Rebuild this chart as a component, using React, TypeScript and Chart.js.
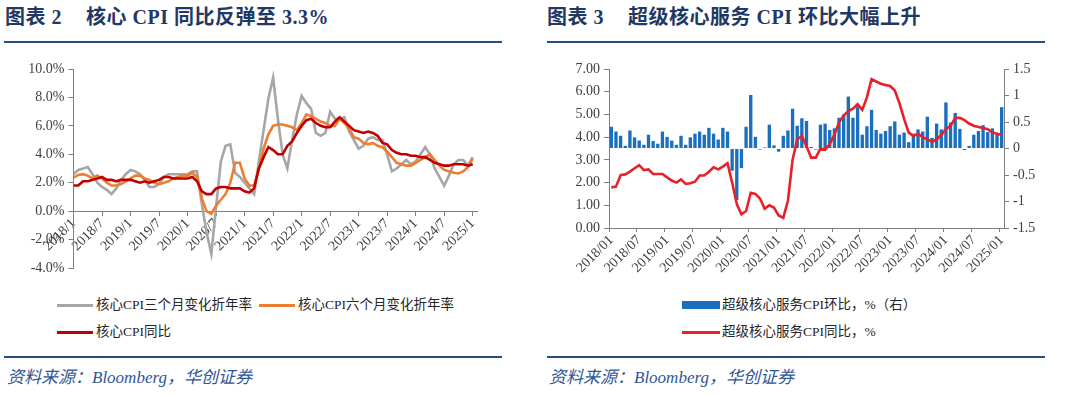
import React, { useEffect, useRef } from "react";
import { Chart, registerables } from "chart.js";
Chart.register(...registerables);

// ---------- Data: left chart (2018/1 – 2025/1, monthly) ----------
const core3m = [
  2.6, 2.9, 3.0, 3.1, 2.6, 2.0, 1.7, 1.5, 1.2, 1.6, 2.2, 2.6,
  2.9, 2.8, 2.6, 2.2, 1.7, 1.7, 1.9, 2.4, 2.6, 2.6, 2.6, 2.6,
  2.6, 2.8, 2.8, 0.5, -1.5, -3.0, 0.3, 3.5, 4.6, 4.7, 2.7, 2.4,
  2.0, 1.6, 1.2, 3.5, 5.7, 7.9, 9.4, 6.5, 4.0, 3.0, 5.0, 6.8,
  8.1, 7.6, 7.2, 5.5, 5.3, 5.5, 7.0, 6.5, 6.5, 6.6, 5.6, 5.0,
  4.4, 4.6, 5.1, 5.2, 5.0, 5.0, 4.0, 2.8, 3.0, 3.3, 3.6, 3.3,
  3.5, 4.0, 4.5, 4.0, 3.0, 2.4, 1.8, 2.5, 3.3, 3.6, 3.6, 3.2,
  3.8,
];
const core6m = [
  2.35, 2.55, 2.6, 2.5, 2.3, 2.5, 2.3, 2.0, 1.8, 1.8, 1.9, 2.1,
  2.3, 2.5, 2.5, 2.3, 2.2, 2.0, 1.9, 2.0, 2.1, 2.3, 2.4, 2.5,
  2.5, 2.7, 2.4, 0.9, 0.0, -0.2, 0.4, 0.8, 1.2, 2.0, 3.4, 3.4,
  2.3, 1.8, 1.8, 3.0, 4.4, 5.4, 6.0, 6.1, 6.1, 6.0, 5.9, 5.7,
  6.2, 6.8, 6.7, 6.5, 6.3, 6.2, 6.0, 6.0, 6.5, 6.2, 5.8, 5.2,
  5.1, 4.8, 4.7, 4.8, 4.6, 4.5, 4.2, 3.8, 3.4, 3.3, 3.2, 3.2,
  3.4, 3.6, 3.8, 4.0, 3.6, 3.2, 2.9, 2.8, 2.7, 2.65, 2.8, 3.1,
  3.7,
];
const coreYoY = [
  1.8, 1.8, 2.1, 2.1, 2.2, 2.3, 2.4, 2.2, 2.2, 2.1, 2.2, 2.2,
  2.2, 2.1, 2.0, 2.1, 2.0, 2.1, 2.2, 2.4, 2.4, 2.3, 2.3, 2.3,
  2.3, 2.4, 2.1, 1.4, 1.2, 1.2, 1.6, 1.7, 1.7, 1.6, 1.6, 1.6,
  1.4, 1.3, 1.6, 3.0, 3.8, 4.5, 4.3, 4.0, 4.0, 4.6, 4.9, 5.5,
  6.0, 6.4, 6.5, 6.2, 6.0, 5.9, 5.9, 6.3, 6.6, 6.3, 6.0, 5.7,
  5.6, 5.5, 5.6, 5.5, 5.3, 4.8, 4.7, 4.3, 4.1, 4.0, 4.0, 3.9,
  3.9, 3.8, 3.8, 3.6, 3.4, 3.3, 3.2, 3.2, 3.3, 3.3, 3.3, 3.2,
  3.3,
];
const leftTickLabels = [
  "2018/1", "2018/7", "2019/1", "2019/7", "2020/1", "2020/7", "2021/1", "2021/7",
  "2022/1", "2022/7", "2023/1", "2023/7", "2024/1", "2024/7", "2025/1",
];

// ---------- Data: right chart ----------
const superMoM = [
  0.41, 0.32, 0.24, 0.05, 0.34, 0.21, 0.15, 0.07, 0.26, 0.14, 0.09, 0.32,
  0.22, 0.15, 0.07, 0.24, 0.07, 0.21, 0.28, 0.32, 0.26, 0.39, 0.28, 0.17,
  0.39, 0.32, -0.42, -0.97, -0.37, 0.41, 1.01, 0.22, -0.02, 0.02, 0.45, 0.06,
  -0.06, 0.24, 0.34, 0.75, 0.43, 0.57, 0.52, 0.03, -0.02, 0.45, 0.47, 0.35,
  0.38, 0.58, 0.64, 0.98, 0.58, 0.78, 0.26, 0.42, 0.73, 0.35, 0.28, 0.33,
  0.42, 0.51, 0.26, 0.30, 0.12, 0.28, 0.36, 0.32, 0.60, 0.20, 0.47, 0.36,
  0.87, 0.49, 0.67, 0.37, -0.03, 0.05, 0.26, 0.33, 0.44, 0.31, 0.38, 0.26,
  0.78,
];
const superYoY = [
  1.79, 1.82, 2.33, 2.36, 2.48, 2.63, 2.77, 2.55, 2.58, 2.38, 2.38, 2.38,
  2.23, 2.09, 2.0, 2.14, 1.94, 1.97, 2.04, 2.31, 2.31, 2.48, 2.67, 2.58,
  2.70, 2.85, 2.0, 1.05, 0.6, 0.75, 1.55, 1.5, 1.3, 0.85, 1.0, 0.9,
  0.55, 0.45, 1.2, 3.0, 3.9, 4.05, 3.6, 3.1, 3.1, 3.5, 3.44, 3.7,
  4.1, 4.65, 4.95, 5.15, 5.25, 5.45, 5.2, 5.75, 6.55, 6.45, 6.35, 6.3,
  6.25, 6.05, 5.5, 4.8, 4.2, 4.05, 4.15, 4.0, 3.9, 3.8, 3.9, 4.1,
  4.35, 4.5, 4.85, 4.85, 4.75, 4.6, 4.5, 4.45, 4.4, 4.35, 4.2, 4.15,
  4.1,
];
const rightTickLabels = [
  "2018/01", "2018/07", "2019/01", "2019/07", "2020/01", "2020/07", "2021/01", "2021/07",
  "2022/01", "2022/07", "2023/01", "2023/07", "2024/01", "2024/07", "2025/01",
];
const months: string[] = [];
for (let y = 2018; y <= 2025; y++) {
  for (let m = 1; m <= 12; m++) {
    if (months.length < 85) months.push(`${y}/${m < 10 ? "0" + m : m}`);
  }
}

const SERIF = "'Liberation Serif', 'Times New Roman', serif";
const CJK = "'Liberation Serif', 'Noto Sans CJK SC', sans-serif";
const NAVY = "#1F3864";
const AXIS = "#7F7F7F";
const TICKTXT = "#404040";
const TICKFONT = { family: SERIF, size: 14 };

function zeroPad(s: any) {
  s.paddingTop = 0;
  s.paddingBottom = 0;
  s.paddingLeft = 0;
  s.paddingRight = 0;
}

function LeftChart() {
  const ref = useRef<HTMLCanvasElement>(null);
  useEffect(() => {
    const pts = (arr: number[]) => arr.map((v, i) => ({ x: i, y: v }));
    const chart = new Chart(ref.current!, {
      type: "line",
      data: {
        datasets: [
          { label: "核心CPI同比", data: pts(coreYoY), borderColor: "#C00000", borderWidth: 2.6, pointRadius: 0, order: 0 },
          { label: "核心CPI六个月变化折年率", data: pts(core6m), borderColor: "#ED7D31", borderWidth: 2.6, pointRadius: 0, order: 1 },
          { label: "核心CPI三个月变化折年率", data: pts(core3m), borderColor: "#A6A6A6", borderWidth: 2.6, pointRadius: 0, order: 2 },
        ],
      },
      options: {
        animation: false,
        responsive: false,
        maintainAspectRatio: false,
        layout: { padding: { top: 14, right: 43, bottom: 12, left: 0 } },
        plugins: { legend: { display: false }, tooltip: { enabled: false } },
        scales: {
          x: {
            type: "linear",
            position: { y: 0 } as any,
            min: 0,
            max: 84.9,
            ticks: {
              stepSize: 6,
              includeBounds: false,
              autoSkip: false,
              minRotation: 45,
              maxRotation: 45,
              padding: 0,
              color: TICKTXT,
              font: TICKFONT,
              callback: (v: any) => leftTickLabels[Math.round(v / 6)] ?? "",
            },
            grid: { drawOnChartArea: false, drawTicks: true, tickLength: 4, color: AXIS },
            border: { color: AXIS, width: 1 },
            afterFit: zeroPad,
          },
          y: {
            min: -4,
            max: 10,
            ticks: {
              stepSize: 2,
              padding: 4,
              color: TICKTXT,
              font: TICKFONT,
              callback: (v: any) => Number(v).toFixed(1) + "%",
            },
            grid: { drawOnChartArea: false, drawTicks: true, tickLength: 5, color: AXIS },
            border: { color: AXIS, width: 1 },
            afterFit: (s: any) => {
              s.width = 73.5;
              zeroPad(s);
            },
          },
        },
      },
    } as any);
    return () => chart.destroy();
  }, []);
  return <canvas ref={ref} width={520} height={225} style={{ position: "absolute", left: 0, top: 55, width: 520, height: 225 }} />;
}

function RightChart() {
  const ref = useRef<HTMLCanvasElement>(null);
  useEffect(() => {
    const chart = new Chart(ref.current!, {
      type: "bar",
      data: {
        labels: months,
        datasets: [
          {
            type: "line",
            label: "超级核心服务CPI同比，%",
            data: superYoY,
            yAxisID: "y",
            borderColor: "#E8202A",
            borderWidth: 2.6,
            pointRadius: 0,
            order: 0,
          },
          {
            type: "bar",
            label: "超级核心服务CPI环比，%（右）",
            data: superMoM,
            yAxisID: "y1",
            backgroundColor: "#1A6FBF",
            categoryPercentage: 1,
            barPercentage: 0.72,
            order: 1,
          },
        ],
      },
      options: {
        animation: false,
        responsive: false,
        maintainAspectRatio: false,
        layout: { padding: { top: 14, right: 0, bottom: 0, left: 0 } },
        plugins: { legend: { display: false }, tooltip: { enabled: false } },
        scales: {
          x: {
            ticks: {
              autoSkip: false,
              minRotation: 45,
              maxRotation: 45,
              padding: 0,
              color: TICKTXT,
              font: TICKFONT,
              callback: (_v: any, i: number) => (i % 6 === 0 ? rightTickLabels[i / 6] : ""),
            },
            grid: {
              drawOnChartArea: false,
              drawTicks: true,
              tickLength: 4,
              color: (c: any) => (c.index % 6 === 0 ? AXIS : "rgba(0,0,0,0)"),
            },
            border: { color: AXIS, width: 1 },
            afterFit: (s: any) => {
              s.height = 52;
              zeroPad(s);
            },
          },
          y: {
            position: "left",
            min: 0,
            max: 7,
            ticks: {
              stepSize: 1,
              padding: 4,
              color: TICKTXT,
              font: TICKFONT,
              callback: (v: any) => Number(v).toFixed(2),
            },
            grid: { drawOnChartArea: false, drawTicks: true, tickLength: 5, color: AXIS },
            border: { color: AXIS, width: 1 },
            afterFit: (s: any) => {
              s.width = 69;
              zeroPad(s);
            },
          },
          y1: {
            position: "right",
            min: -1.5,
            max: 1.5,
            ticks: {
              stepSize: 0.5,
              padding: 4,
              color: TICKTXT,
              font: TICKFONT,
              callback: (v: any) => String(Math.round(Number(v) * 10) / 10),
            },
            grid: { drawOnChartArea: false, drawTicks: true, tickLength: 5, color: AXIS },
            border: { color: AXIS, width: 1 },
            afterFit: (s: any) => {
              s.width = 76;
              zeroPad(s);
            },
          },
        },
      },
    } as any);
    return () => chart.destroy();
  }, []);
  return <canvas ref={ref} width={540} height={225} style={{ position: "absolute", left: 540, top: 55, width: 540, height: 225 }} />;
}

const abs = (left: number, top: number, extra: React.CSSProperties = {}): React.CSSProperties => ({
  position: "absolute",
  left,
  top,
  ...extra,
});

const legendText: React.CSSProperties = {
  fontFamily: CJK,
  fontSize: 13.5,
  lineHeight: "18px",
  color: "#262626",
  whiteSpace: "nowrap",
};

function LegendLine({ x, y, color, text, thick = 3 }: { x: number; y: number; color: string; text: string; thick?: number }) {
  return (
    <>
      <div style={abs(x, y - thick / 2, { width: 36, height: thick, background: color })} />
      <div style={abs(x + 39, y - 9, legendText)}>{text}</div>
    </>
  );
}

export default function App() {
  const titleStyle: React.CSSProperties = {
    fontFamily: CJK,
    fontWeight: 700,
    fontSize: 20,
    letterSpacing: 0.5,
    color: NAVY,
    whiteSpace: "nowrap",
    lineHeight: "26px",
  };
  const srcStyle: React.CSSProperties = {
    fontFamily: CJK,
    fontStyle: "italic",
    fontSize: 17,
    color: "#2F5597",
    whiteSpace: "nowrap",
    lineHeight: "22px",
  };
  return (
    <div style={{ position: "absolute", left: 0, top: 0, width: 1080, height: 395, background: "#fff", overflow: "hidden" }}>
      {/* Left panel */}
      <div style={abs(5, 4, titleStyle)}>
        图表 2<span style={{ display: "inline-block", width: 24 }} />核心 CPI 同比反弹至 3.3%
      </div>
      <div style={abs(4, 41, { width: 498, height: 2, background: "#2B4C7E" })} />
      <LeftChart />
      <LegendLine x={57} y={305} color="#A6A6A6" text="核心CPI三个月变化折年率" />
      <LegendLine x={259} y={305} color="#ED7D31" text="核心CPI六个月变化折年率" />
      <LegendLine x={57} y={332} color="#C00000" text="核心CPI同比" />
      <div style={abs(4, 356, { width: 498, height: 1.5, background: "#2B4C7E" })} />
      <div style={abs(7, 367, srcStyle)}>资料来源：Bloomberg，华创证券</div>

      {/* Right panel */}
      <div style={abs(547, 4, titleStyle)}>
        图表 3<span style={{ display: "inline-block", width: 24 }} />超级核心服务 CPI 环比大幅上升
      </div>
      <div style={abs(547, 41, { width: 498, height: 2, background: "#2B4C7E" })} />
      <RightChart />
      <div style={abs(682, 301, { width: 38, height: 8, background: "#1A6FBF" })} />
      <div style={abs(722, 296, legendText)}>超级核心服务CPI环比，%（右）</div>
      <div style={abs(682, 331, { width: 38, height: 2.5, background: "#E8202A" })} />
      <div style={abs(722, 323, legendText)}>超级核心服务CPI同比，%</div>
      <div style={abs(547, 356, { width: 498, height: 1.5, background: "#2B4C7E" })} />
      <div style={abs(549, 367, srcStyle)}>资料来源：Bloomberg，华创证券</div>
    </div>
  );
}
